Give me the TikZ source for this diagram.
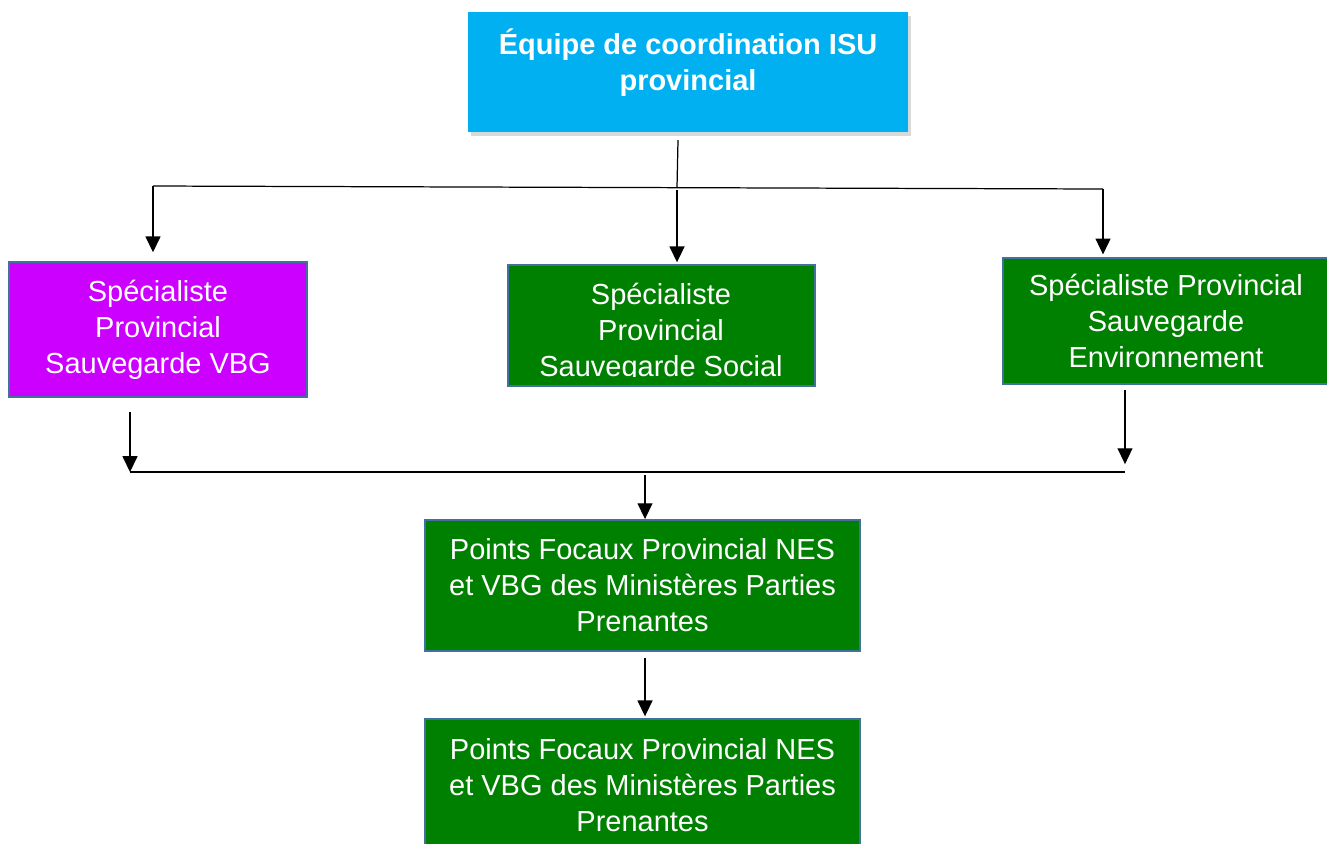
\documentclass[tikz,border=0pt]{standalone}
\usepackage{fontspec}
\setmainfont{Liberation Sans}
\usetikzlibrary{arrows.meta,shadows}
\definecolor{isucyan}{HTML}{00B0F0}
\definecolor{vbgpurple}{HTML}{CC00FF}
\definecolor{nesgreen}{HTML}{008000}
\definecolor{edgeblue}{HTML}{41719C}
\newcommand{\orgbox}{\node[draw=edgeblue,line width=1.1pt,text=white,align=center,inner sep=0pt]}
\newcommand{\orgtext}{\node[text=white,align=center,inner sep=0pt]}

\begin{document}
\begin{tikzpicture}[x=0.02cm, y=-0.02cm, line width=0.7pt,
  every node/.style={font=\fontsize{16.5}{20.5}\selectfont},
  >={Triangle[width=8.5pt,length=9pt]}]
\useasboundingbox (0,0) rectangle (1327,843);
%top unit
\node[fill=isucyan, minimum width=8.8cm, minimum height=2.4cm,
  drop shadow={shadow xshift=1.5pt, shadow yshift=-2pt, opacity=0.3}] (isu) at (688,72) {};
\orgtext[font=\fontsize{16.5}{20.5}\selectfont\bfseries] (isutxt) at (688,63) {Équipe de coordination ISU\\provincial};

%specialists
\orgbox[fill=vbgpurple, minimum width=5.96cm, minimum height=2.7cm] (vbg) at (158,329.5)
  {Spécialiste\\Provincial\\Sauvegarde VBG};
\orgbox[fill=nesgreen, minimum width=6.14cm, minimum height=2.42cm] (social) at (661.5,325.5) {};
\begin{scope}
\clip (social.north west) rectangle ([yshift=5.7pt]social.south east);
\orgtext (socialtxt) at (661,333) {Spécialiste\\Provincial\\Sauvegarde Social};
\end{scope}
\orgbox[fill=nesgreen, minimum width=6.52cm, minimum height=2.52cm] (env) at (1166,321)
  {Spécialiste Provincial\\Sauvegarde\\Environnement};

%focal points
\orgbox[fill=nesgreen, minimum width=8.7cm, minimum height=2.62cm] (pf1) at (642.5,585.5)
  {Points Focaux Provincial NES\\et VBG des Ministères Parties\\Prenantes};
\orgbox[fill=nesgreen, minimum width=8.7cm, minimum height=3cm] (pf2) at (642.5,794) {};
\orgtext (pf2txt) at (642.5,785) {Points Focaux Provincial NES\\et VBG des Ministères Parties\\Prenantes};

%upper bus
\coordinate (isufoot) at (678,140);
\coordinate (busL) at (153,186);
\coordinate (busM) at (677,187);
\coordinate (busR) at (1103,189);
\draw (isufoot) -- (busM);
\draw (busL) -- (busR);
\draw[->, shorten >=5pt] (busL) -- (vbg.north -| busL);
\draw[->, shorten <=1.5pt, shorten >=1pt] (busM) -- (social.north -| busM);
\draw[->, shorten >=1.5pt] (busR) -- (env.north -| busR);

%lower bus
\coordinate (vbgfoot) at (130,412);
\coordinate (envfoot) at (1125,390);
\coordinate (joinL) at (130,472);
\coordinate (joinM) at (645,475);
\coordinate (joinR) at (1125,472);
\draw[->] (vbgfoot) -- (joinL);
\draw[->, shorten >=4.5pt] (envfoot) -- (joinR);
\draw (joinL) -- (joinR);
\draw[->] (joinM) -- (pf1.north -| joinM);
\draw[->, shorten <=3.4pt, shorten >=1pt] (pf1.south -| joinM) -- (pf2.north -| joinM);
\end{tikzpicture}
\end{document}
